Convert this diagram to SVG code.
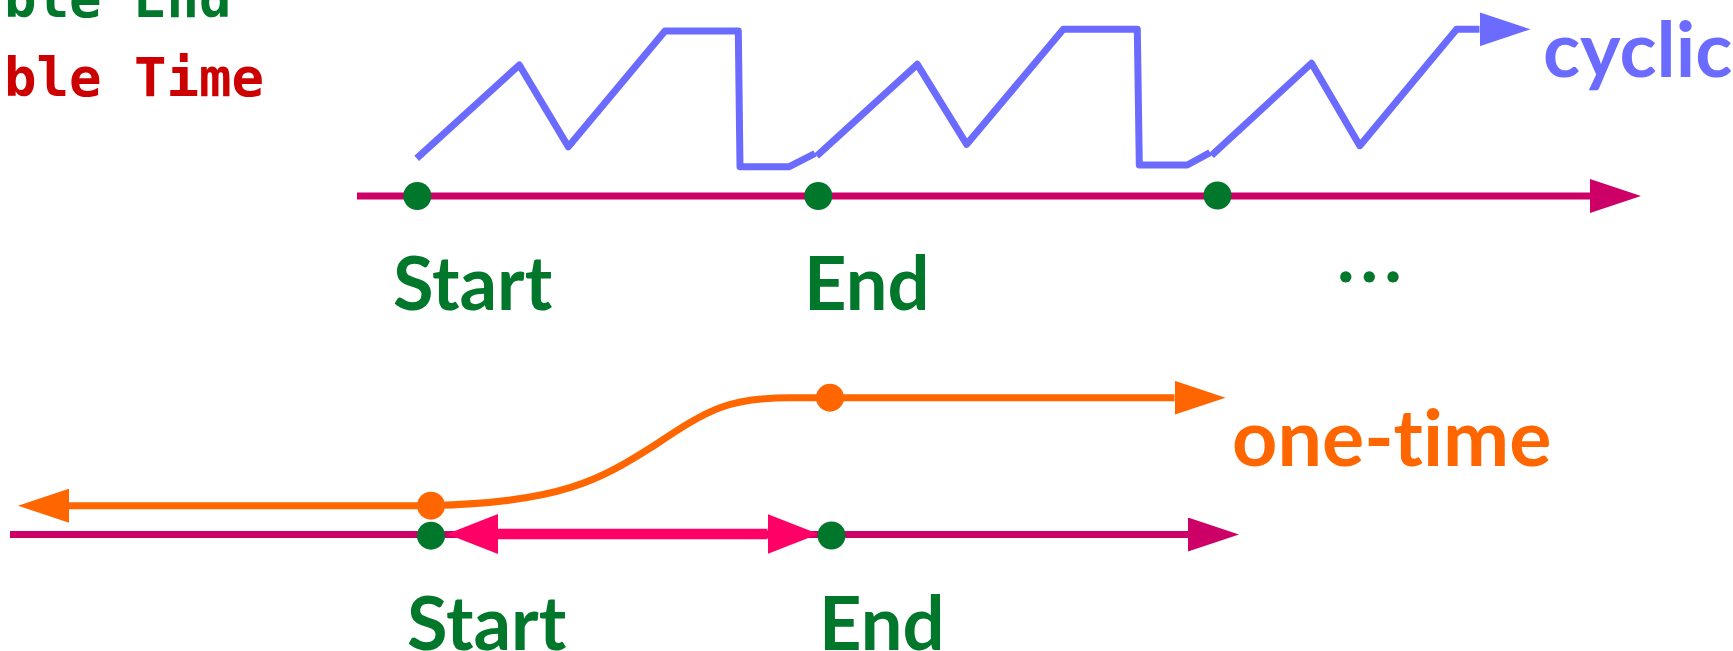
<svg xmlns="http://www.w3.org/2000/svg" width="1733" height="651" viewBox="0 0 1733 651">
  <style>
    .axis { fill: none; stroke: #CC0066; stroke-width: 7; }
    .wave { fill: none; stroke: #6B6BFF; stroke-width: 7; stroke-linejoin: round; stroke-linecap: butt; }
    .once { fill: none; stroke: #FF6600; stroke-width: 7; }
    .span { fill: none; stroke: #FF0066; stroke-width: 10.5; }
    .mark { fill: #00772A; }
    .mark-o { fill: #FF6600; }
    .lbl { font-family: Lato, "Open Sans", sans-serif; font-weight: bold; font-variant-ligatures: none; }
    .lbl-g { fill: #00772A; font-size: 74px; }
    .mono { font-family: "DejaVu Sans Mono", "Liberation Mono", monospace; font-weight: bold; font-size: 54px; }
  </style>
  <defs>
    <marker id="ah-axis" markerUnits="userSpaceOnUse" markerWidth="51" markerHeight="34" viewBox="0 0 51 34" refX="0" refY="17" orient="auto">
      <path d="M0,0 L51,17 L0,34 z" fill="#CC0066"/>
    </marker>
    <marker id="ah-wave" markerUnits="userSpaceOnUse" markerWidth="51" markerHeight="34" viewBox="0 0 51 34" refX="0" refY="17" orient="auto">
      <path d="M0,0 L51,17 L0,34 z" fill="#6B6BFF"/>
    </marker>
    <marker id="ah-once" markerUnits="userSpaceOnUse" markerWidth="51" markerHeight="34" viewBox="0 0 51 34" refX="0" refY="17" orient="auto">
      <path d="M0,0 L51,17 L0,34 z" fill="#FF6600"/>
    </marker>
    <marker id="ah-span" markerUnits="userSpaceOnUse" markerWidth="51" markerHeight="40" viewBox="0 0 51 40" refX="0" refY="20" orient="auto-start-reverse">
      <path d="M0,0 L51,20 L0,40 z" fill="#FF0066"/>
    </marker>
  </defs>

  <!-- partially visible legend lines -->
  <g id="legend">
    <text class="mono" x="4" y="17" fill="#00772A">ble End</text>
    <text class="mono" x="4" y="96" fill="#CC0000">ble Time</text>
  </g>

  <!-- connectors: time axes, cyclic wave, one-time path, span -->
  <g id="connectors">
    <line class="axis" x1="357" y1="196" x2="1590" y2="196" marker-end="url(#ah-axis)"/>
    <polyline class="wave" points="416.7,158.3 519.3,65 568.3,146.7 665,31 738.3,31 740,166.7 789.3,166.7 815,153.5"/>
    <polyline class="wave" points="816.7,156 917.3,64.3 966.7,144.3 1063.3,29.3 1137.3,29.3 1139.3,165 1187.3,165 1210,152.7"/>
    <polyline class="wave" points="1211.5,155.5 1311.5,63.3 1359.8,145.7 1456.6,29.3 1479.5,29.3" marker-end="url(#ah-wave)"/>

    <line class="axis" x1="10" y1="534.5" x2="1188" y2="534.5" marker-end="url(#ah-axis)"/>
    <line class="once" x1="431" y1="505.7" x2="69" y2="505.7" marker-end="url(#ah-once)"/>
    <path class="once" d="M431,505.5 C560,503 600,480 655,445 C710,408 730,397.7 790,397.7 L1174.5,397.7" marker-end="url(#ah-once)"/>
    <line class="span" x1="498" y1="534" x2="767.5" y2="534" marker-start="url(#ah-span)" marker-end="url(#ah-span)"/>
  </g>

  <!-- cyclic timeline -->
  <g id="cyclic-start">
    <circle class="mark" cx="417.3" cy="196" r="14"/>
    <text class="lbl lbl-g" x="393" y="310">Start</text>
  </g>
  <g id="cyclic-end">
    <circle class="mark" cx="818.3" cy="196" r="14"/>
    <text class="lbl lbl-g" x="804" y="310">End</text>
  </g>
  <g id="cyclic-next">
    <circle class="mark" cx="1217.5" cy="195.5" r="14"/>
    <text class="lbl lbl-g" x="1337" y="282" letter-spacing="6">...</text>
  </g>
  <g id="cyclic-label">
    <text class="lbl" x="1543" y="77" font-size="77" fill="#6B6BFF">cyclic</text>
  </g>

  <!-- one-time timeline -->
  <g id="once-start">
    <circle class="mark-o" cx="431" cy="505.7" r="14"/>
    <circle class="mark" cx="431" cy="535.7" r="14"/>
    <text class="lbl lbl-g" x="407" y="650">Start</text>
  </g>
  <g id="once-end">
    <circle class="mark-o" cx="830" cy="397.7" r="14"/>
    <circle class="mark" cx="831.5" cy="535.5" r="14"/>
    <text class="lbl lbl-g" x="819" y="650">End</text>
  </g>
  <g id="once-label">
    <text class="lbl" x="1232" y="466" font-size="79" fill="#FF6600">one-time</text>
  </g>
</svg>
